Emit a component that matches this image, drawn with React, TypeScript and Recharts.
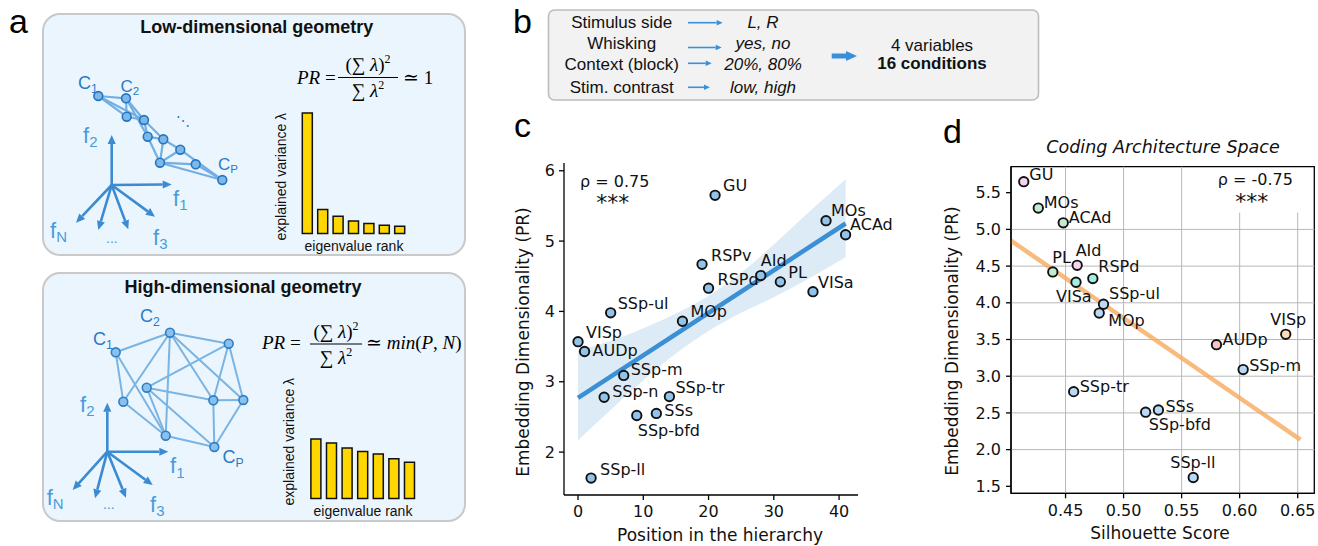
import React from 'react';
import {
  ComposedChart, ScatterChart, BarChart, Bar, Scatter, Area, Line,
  XAxis, YAxis, ReferenceLine, ReferenceArea,
} from 'recharts';

const SANS = 'DejaVu Sans, Verdana, sans-serif';
const ARIAL = 'Liberation Sans, Arial, Helvetica, sans-serif';
const SERIF = 'Liberation Serif, DejaVu Serif, serif';

// ---------------- Panel c: dimensionality vs hierarchy ----------------
const areasC = ['GU', 'MOs', 'ACAd', 'RSPv', 'AId', 'RSPd', 'PL', 'VISa', 'SSp-ul', 'MOp', 'VISp', 'AUDp', 'SSp-m', 'SSp-n', 'SSp-tr', 'SSs', 'SSp-bfd', 'SSp-ll'];
const hierarchyPosition = [21, 38, 41, 19, 28, 20, 31, 36, 5, 16, 0, 1, 7, 4, 14, 12, 9, 2];
const dimensionalityC = [5.65, 5.29, 5.09, 4.67, 4.51, 4.33, 4.42, 4.28, 3.98, 3.86, 3.57, 3.43, 3.09, 2.78, 2.79, 2.55, 2.52, 1.63];
const fitXC = [0, 41];
const fitYC = [2.77, 5.25];
const bandXC = [0, 5, 10, 15, 20, 25, 30, 35, 41];
const bandLoC = [2.17, 2.6, 3.02, 3.4, 3.72, 3.98, 4.2, 4.45, 4.77];
const bandHiC = [3.45, 3.58, 3.76, 3.97, 4.22, 4.55, 4.95, 5.38, 5.88];
const xTicksC = [0, 10, 20, 30, 40];
const yTicksC = [2, 3, 4, 5, 6];

// label offsets (px) for panel c text relative to marker
const labelOffsetC: Record<string, [number, number]> = {
  GU: [8, -10], MOs: [5, -10], ACAd: [4.5, -10], RSPv: [9, -8.5], AId: [0, -15], RSPd: [9, -8.5],
  PL: [8, -9], VISa: [5, -9.5], 'SSp-ul': [7, -9], MOp: [8, -9.5], VISp: [8, -9], AUDp: [8, -1],
  'SSp-m': [7, -6], 'SSp-n': [8, -5.5], 'SSp-tr': [6, -9], SSs: [8, -2.5], 'SSp-bfd': [1, 15], 'SSp-ll': [9, -8.5],
};

// ---------------- Panel d: coding architecture space ----------------
const areasD = ['GU', 'MOs', 'ACAd', 'PL', 'AId', 'RSPd', 'VISa', 'SSp-ul', 'MOp', 'AUDp', 'VISp', 'SSp-m', 'SSp-tr', 'SSs', 'SSp-bfd', 'SSp-ll'];
const silhouetteD = [0.414, 0.4265, 0.448, 0.439, 0.460, 0.4735, 0.459, 0.4827, 0.479, 0.580, 0.6397, 0.603, 0.457, 0.530, 0.519, 0.560];
const dimensionalityD = [5.65, 5.29, 5.09, 4.42, 4.51, 4.33, 4.28, 3.98, 3.86, 3.43, 3.57, 3.09, 2.79, 2.54, 2.51, 1.62];
const groupD = ['pink', 'green', 'green', 'green', 'pink', 'cyan', 'cyan', 'blue', 'blue', 'salmon', 'peach', 'blue', 'blue', 'blue', 'blue', 'blue'];
const fitXD = [0.403, 0.6523];
const fitYD = [4.846, 2.136];
const xTicksD = [0.45, 0.5, 0.55, 0.6, 0.65];
const yTicksD = [1.5, 2.0, 2.5, 3.0, 3.5, 4.0, 4.5, 5.0, 5.5];
const gridYD = [2.0, 2.5, 3.0, 3.5, 4.0, 4.5, 5.0];
const gridXFullD = [0.45, 0.5, 0.55];
const gridXCutD = [0.6, 0.65];

const groupColors: Record<string, string> = {
  pink: '#f6d4ef', green: '#c3ebcf', cyan: '#9eefe6', blue: '#b9d9f7', salmon: '#f8c4c4', peach: '#fddcb6',
};
const labelOffsetD: Record<string, [number, number]> = {
  GU: [5.5, -7], MOs: [5.5, -6], ACAd: [5.5, -5.5], PL: [-0.5, -14], AId: [-1.5, -15], RSPd: [5.5, -12],
  VISa: [-20, 14], 'SSp-ul': [5.5, -11], MOp: [9, 7], AUDp: [6, -5], VISp: [-15.5, -14.5], 'SSp-m': [6, -4.5],
  'SSp-tr': [6, -5], SSs: [7, -3], 'SSp-bfd': [3, 12], 'SSp-ll': [-23, -15],
};

// ---------------- Panel a: schematic geometries ----------------
const eigenRanks = ['1', '2', '3', '4', '5', '6', '7'];
const lowDimEigen = [1.0, 0.199, 0.143, 0.104, 0.083, 0.069, 0.061];
const highDimEigen = [0.489, 0.456, 0.415, 0.387, 0.366, 0.327, 0.297];

// node positions in the sketch's feature plane
const lowNodesX = [98.3, 126, 126.7, 144, 147.7, 163.3, 180.3, 160, 195.7, 222.3];
const lowNodesY = [96, 98.3, 116.7, 120, 136.7, 139.3, 149.7, 162.7, 164.3, 180];
const lowEdges: [number, number][] = [
  [0, 1], [0, 2], [0, 3], [1, 2], [1, 3], [1, 4], [2, 3], [3, 4], [3, 5], [4, 5], [4, 7], [5, 7],
  [5, 6], [6, 7], [7, 8], [7, 9], [8, 9], [6, 9],
];
const lowAxisOrigin = [111.7, 185];
const lowAxisTipsX = [171.7, 111.7, 76, 98.3, 128.3, 155];
const lowAxisTipsY = [184.5, 135, 222.7, 230, 229.3, 216.7];

const highNodesX = [115.7, 170, 228.7, 146.7, 123.3, 213.3, 243.3, 165.7, 214.3];
const highNodesY = [352.3, 332.7, 343.7, 387.7, 401.7, 400.3, 400, 435.7, 447];
const highEdges: [number, number][] = [
  [0, 1], [0, 4], [0, 7], [1, 4], [1, 7], [1, 2], [1, 5], [1, 6], [2, 3], [2, 5], [2, 6],
  [3, 5], [3, 7], [3, 8], [4, 7], [5, 6], [5, 8], [6, 8], [7, 8],
];
const highAxisOrigin = [107.3, 451.7];
const highAxisTipsX = [168.3, 107.3, 72.7, 95, 126, 152.7];
const highAxisTipsY = [451.7, 402.7, 490, 498.3, 497.7, 485];

// ---------------- Panel b text ----------------
const variableNames = ['Stimulus side', 'Whisking', 'Context (block)', 'Stim. contrast'];
const variableLevels = ['L, R', 'yes, no', '20%, 80%', 'low, high'];

// ---------------------------------------------------------------------
const tickStyle = { fill: '#111', fontSize: 16, fontFamily: SANS };

const ArrowShape = (color: string, width: number, head: number) => (p: any) => {
  const { x1, y1, x2, y2 } = p;
  if ([x1, y1, x2, y2].some((v) => typeof v !== 'number' || isNaN(v))) return <g />;
  const ang = Math.atan2(y2 - y1, x2 - x1);
  const bx = x2 - head * Math.cos(ang);
  const by = y2 - head * Math.sin(ang);
  const hw = head * 0.45;
  const px = -Math.sin(ang) * hw;
  const py = Math.cos(ang) * hw;
  return (
    <g>
      <line x1={x1} y1={y1} x2={bx} y2={by} stroke={color} strokeWidth={width} />
      <polygon points={`${x2},${y2} ${bx + px},${by + py} ${bx - px},${by - py}`} fill={color} />
    </g>
  );
};

function GeometrySketch(props: {
  left: number; top: number; width: number; height: number;
  nodesX: number[]; nodesY: number[]; edges: [number, number][];
  origin: number[]; tipsX: number[]; tipsY: number[];
  nodeFill: string; nodeStroke: string; edgeColor: string; edgeWidth: number;
}) {
  const { left, top, width, height, nodesX, nodesY, edges, origin, tipsX, tipsY } = props;
  const nodes = nodesX.map((x, i) => ({ x, y: nodesY[i] }));
  const arrow = ArrowShape('#3a8bd2', 2.6, 9);
  return (
    <div style={{ position: 'absolute', left, top }}>
      <ScatterChart width={width} height={height} margin={{ top: 0, right: 0, bottom: 0, left: 0 }}>
        <XAxis type="number" dataKey="x" domain={[left, left + width]} hide allowDataOverflow />
        <YAxis type="number" dataKey="y" domain={[top, top + height]} reversed hide allowDataOverflow />
        {edges.map(([a, b], i) => (
          <ReferenceLine key={'e' + i} ifOverflow="visible"
            segment={[{ x: nodesX[a], y: nodesY[a] }, { x: nodesX[b], y: nodesY[b] }]}
            stroke={props.edgeColor} strokeWidth={props.edgeWidth} />
        ))}
        {tipsX.map((tx, i) => (
          <ReferenceLine key={'a' + i} ifOverflow="visible"
            segment={[{ x: origin[0], y: origin[1] }, { x: tx, y: tipsY[i] }]}
            shape={arrow} />
        ))}
        <Scatter data={nodes} isAnimationActive={false}
          shape={(p: any) => <circle cx={p.cx} cy={p.cy} r={4.4} fill={props.nodeFill} stroke={props.nodeStroke} strokeWidth={1.6} />} />
      </ScatterChart>
    </div>
  );
}

function EigenBars(props: { left: number; top: number; width: number; height: number; values: number[]; yMax: number; padL: number; padR: number }) {
  const data = eigenRanks.map((r, i) => ({ rank: r, v: props.values[i] }));
  const m = 5;
  return (
    <div style={{ position: 'absolute', left: props.left - m, top: props.top - m }}>
      <BarChart width={props.width + 2 * m} height={props.height + 2 * m} data={data} margin={{ top: m, right: m, bottom: m, left: m }} barCategoryGap={0}>
        <XAxis dataKey="rank" height={0} tick={false} tickLine={false} padding={{ left: props.padL, right: props.padR }} axisLine={{ stroke: '#000', strokeWidth: 2 }} />
        <YAxis domain={[0, props.yMax]} width={0} tick={false} tickLine={false} axisLine={{ stroke: '#000', strokeWidth: 2 }} />
        <Bar dataKey="v" barSize={10} fill="#ffd700" stroke="#111" strokeWidth={1.5} isAnimationActive={false} />
      </BarChart>
    </div>
  );
}

const circleShape = (fillFor: (p: any) => string) => (p: any) => (
  <circle cx={p.cx} cy={p.cy} r={4.7} fill={fillFor(p)} stroke="#111" strokeWidth={1.9} />
);
const labelShape = (offsets: Record<string, [number, number]>) => (p: any) => {
  const name = p.payload?.name ?? '';
  const off = offsets[name] || [6, -8];
  return (
    <text x={p.cx + off[0]} y={p.cy + off[1]} dominantBaseline="central" fontSize={16} fontFamily={SANS} fill="#111">{name}</text>
  );
};

function PanelC() {
  const points = areasC.map((name, i) => ({ name, x: hierarchyPosition[i], y: dimensionalityC[i] }));
  const band = bandXC.map((x, i) => ({ x, range: [bandLoC[i], bandHiC[i]] }));
  const fit = fitXC.map((x, i) => ({ x, fy: fitYC[i] }));
  return (
    <div style={{ position: 'absolute', left: 500, top: 140 }}>
      <ComposedChart width={400} height={406} data={band} margin={{ top: 23, right: 42, bottom: 0, left: 0 }}>
        <XAxis type="number" dataKey="x" domain={[-2.15, 42.9]} ticks={xTicksC} height={51}
          tickSize={5} tickMargin={6} axisLine={{ stroke: '#000', strokeWidth: 1.3 }} tickLine={{ stroke: '#000', strokeWidth: 1.3 }} tick={tickStyle} />
        <YAxis type="number" domain={[1.39, 6.11]} ticks={yTicksC} width={64}
          tickSize={5} tickMargin={4} axisLine={{ stroke: '#000', strokeWidth: 1.3 }} tickLine={{ stroke: '#000', strokeWidth: 1.3 }} tick={tickStyle} />
        <Area dataKey="range" type="monotone" fill="#bcd8ee" fillOpacity={0.5} stroke="none" isAnimationActive={false} />
        <Line data={fit} dataKey="fy" stroke="#3b8fd4" strokeWidth={4.5} dot={false} isAnimationActive={false} />
        <Scatter data={points} dataKey="y" shape={labelShape(labelOffsetC)} isAnimationActive={false} />
        <Scatter data={points} dataKey="y" shape={circleShape(() => '#92c3ea')} isAnimationActive={false} />
      </ComposedChart>
    </div>
  );
}

function PanelD() {
  const points = areasD.map((name, i) => ({ name, x: silhouetteD[i], y: dimensionalityD[i], g: groupD[i] }));
  const fit = fitXD.map((x, i) => ({ x, fy: fitYD[i] }));
  const xMin = 0.403, xMax = 0.6643, yMin = 1.405, yMax = 5.854;
  return (
    <div style={{ position: 'absolute', left: 920, top: 140 }}>
      <ComposedChart width={398} height={406} margin={{ top: 26.7, right: 3.7, bottom: 0, left: 0 }}>
        <XAxis type="number" dataKey="x" domain={[xMin, xMax]} ticks={xTicksD} height={52.7}
          tickFormatter={(v: number) => v.toFixed(2)}
          tickSize={5} tickMargin={6} axisLine={{ stroke: '#000', strokeWidth: 1.3 }} tickLine={{ stroke: '#000', strokeWidth: 1.3 }} tick={tickStyle} />
        <YAxis type="number" dataKey="y" domain={[yMin, yMax]} ticks={yTicksD} width={91}
          tickFormatter={(v: number) => v.toFixed(1)}
          tickSize={5} tickMargin={5} axisLine={{ stroke: '#000', strokeWidth: 1.3 }} tickLine={{ stroke: '#000', strokeWidth: 1.3 }} tick={tickStyle} />
        {gridYD.map((v) => <ReferenceLine key={'gy' + v} y={v} stroke="#b8b8b8" strokeWidth={1} />)}
        {gridXFullD.map((v) => <ReferenceLine key={'gx' + v} x={v} stroke="#b8b8b8" strokeWidth={1} />)}
        {gridXCutD.map((v) => <ReferenceLine key={'gc' + v} segment={[{ x: v, y: yMin }, { x: v, y: 5.228 }]} stroke="#b8b8b8" strokeWidth={1} />)}
        <Line data={fit} dataKey="fy" stroke="#f7a95e" strokeOpacity={0.8} strokeWidth={4.5} dot={false} isAnimationActive={false} />
        <Scatter data={points} dataKey="y" shape={labelShape(labelOffsetD)} isAnimationActive={false} />
        <Scatter data={points} dataKey="y" shape={circleShape((p) => groupColors[p.payload?.g] || '#b9d9f7')} isAnimationActive={false} />
        <ReferenceArea x1={xMin} x2={xMax} y1={yMin} y2={yMax} fill="none" stroke="#000" strokeWidth={1.3} ifOverflow="visible" />
      </ComposedChart>
    </div>
  );
}

function Fraction(props: { x: number; numY: number; denY: number; barY: number; barX1: number; barX2: number }) {
  const { x, numY, denY, barY, barX1, barX2 } = props;
  return (
    <g fontFamily={SERIF} fontSize={19} fill="#000">
      <text x={x} y={numY} textAnchor="middle">(∑ <tspan fontStyle="italic">λ</tspan>)<tspan fontSize={12} dy={-8}>2</tspan></text>
      <line x1={barX1} x2={barX2} y1={barY} y2={barY} stroke="#000" strokeWidth={1.2} />
      <text x={x} y={denY} textAnchor="middle">∑ <tspan fontStyle="italic">λ</tspan><tspan fontSize={12} dy={-8}>2</tspan></text>
    </g>
  );
}

function Overlay() {
  const blue = '#2a7bc6';
  const lblue = '#4a9bdc';
  const sub = (main: string, s: string, x: number, y: number, size: number, color: string) => (
    <text x={x} y={y} fontFamily={ARIAL} fontSize={size} fill={color}>{main}<tspan fontSize={size * 0.68} dy={size * 0.2}>{s}</tspan></text>
  );
  const arrowB = (x1: number, x2: number, y: number, w: number, h: number) => (
    <g>
      <line x1={x1} x2={x2 - h} y1={y} y2={y} stroke="#3a90d8" strokeWidth={w} />
      <polygon points={`${x2},${y} ${x2 - h},${y - h * 0.45} ${x2 - h},${y + h * 0.45}`} fill="#3a90d8" />
    </g>
  );
  const rowY = [22.7, 43.3, 64, 87.3];
  const arrowEnds = [722.7, 721.7, 711.7, 710];
  const arrowY = [22.7, 47.5, 63.3, 87.3];
  return (
    <svg width={1318} height={546} style={{ position: 'absolute', left: 0, top: 0, pointerEvents: 'none' }}>
      {/* panel letters */}
      <g fontFamily={ARIAL} fontSize={34} fill="#000">
        <text x={9} y={33}>a</text>
        <text x={513} y={33}>b</text>
        <text x={514} y={137}>c</text>
        <text x={943} y={143}>d</text>
      </g>
      {/* panel a titles */}
      <g fontFamily={ARIAL} fontSize={18} fontWeight="bold" fill="#111" textAnchor="middle">
        <text x={256.7} y={33}>Low-dimensional geometry</text>
        <text x={243} y={293}>High-dimensional geometry</text>
      </g>
      {/* formulas */}
      <g fontFamily={SERIF} fontSize={19} fill="#000">
        <text x={297} y={84}><tspan fontStyle="italic">PR</tspan> =</text>
        <text x={403} y={84}>≃ 1</text>
        <text x={262} y={349}><tspan fontStyle="italic">PR</tspan> =</text>
        <text x={366} y={349}>≃ <tspan fontStyle="italic">min</tspan>(<tspan fontStyle="italic">P</tspan>, <tspan fontStyle="italic">N</tspan>)</text>
      </g>
      <Fraction x={368} numY={71} denY={97} barY={77.5} barX1={338} barX2={398} />
      <Fraction x={336} numY={338} denY={364} barY={344} barX1={310} barX2={362} />
      {/* bar chart labels */}
      <g fontFamily={ARIAL} fontSize={14} fill="#111" textAnchor="middle">
        <text x={354} y={251}>eigenvalue rank</text>
        <text x={363} y={516}>eigenvalue rank</text>
        <text transform="rotate(-90 281 176.7)" x={281} y={176.7} dominantBaseline="central">explained variance λ</text>
        <text transform="rotate(-90 289.3 441.7)" x={289.3} y={441.7} dominantBaseline="central">explained variance λ</text>
      </g>
      {/* sketch labels, top */}
      {sub('C', '1', 78, 89, 18, blue)}
      {sub('C', '2', 120.5, 92, 17, blue)}
      {sub('C', 'P', 218, 170, 17, blue)}
      <text x={176} y={126} fontFamily={ARIAL} fontSize={14} fill={blue}>⋱</text>
      {sub('f', '2', 83, 143, 22, lblue)}
      {sub('f', '1', 173, 206, 22, lblue)}
      {sub('f', 'N', 50, 238, 22, lblue)}
      <text x={106} y={243} fontFamily={ARIAL} fontSize={14} fill={lblue}>...</text>
      {sub('f', '3', 153, 245, 22, lblue)}
      {/* sketch labels, bottom */}
      {sub('C', '1', 93, 345, 18, blue)}
      {sub('C', '2', 140, 322, 18, blue)}
      {sub('C', 'P', 222.5, 463, 18, blue)}
      {sub('f', '2', 80, 411.7, 22, lblue)}
      {sub('f', '1', 170, 473.3, 22, lblue)}
      {sub('f', 'N', 46.7, 505, 22, lblue)}
      <text x={103} y={509} fontFamily={ARIAL} fontSize={14} fill={lblue}>...</text>
      {sub('f', '3', 150, 511.7, 22, lblue)}

      {/* panel b */}
      <rect x={548.5} y={10} width={490} height={90} rx={6} fill="#f2f2f2" stroke="#bdbdbd" strokeWidth={1.6} />
      <g fontFamily={ARIAL} fontSize={17} fill="#111">
        {variableNames.map((t, i) => (
          <text key={t} x={621.7} y={rowY[i]} textAnchor="middle" dominantBaseline="central">{t}</text>
        ))}
        {variableLevels.map((t, i) => (
          <text key={t} x={763} y={rowY[i]} textAnchor="middle" dominantBaseline="central" fontStyle="italic">{t}</text>
        ))}
        <text x={932} y={45} textAnchor="middle" dominantBaseline="central">4 variables</text>
        <text x={932} y={63.5} textAnchor="middle" dominantBaseline="central" fontWeight="bold">16 conditions</text>
      </g>
      {arrowEnds.map((xe, i) => <g key={i}>{arrowB(688, xe, arrowY[i], 1.6, 6)}</g>)}
      {arrowB(831.7, 857, 56, 5, 11)}

      {/* panel c text */}
      <g fontFamily={SANS} fill="#111">
        <text x={580} y={181} fontSize={16} dominantBaseline="central">ρ = 0.75</text>
        <text x={612.7} y={210} fontSize={22} textAnchor="middle">***</text>
        <text x={720} y={535} fontSize={17} textAnchor="middle" dominantBaseline="central">Position in the hierarchy</text>
        <text transform="rotate(-90 523 342)" x={523} y={342} fontSize={17} textAnchor="middle" dominantBaseline="central">Embedding Dimensionality (PR)</text>
      </g>
      {/* panel d text */}
      <g fontFamily={SANS} fill="#111">
        <text x={1163} y={146.7} fontSize={17.5} fontStyle="italic" textAnchor="middle" dominantBaseline="central">Coding Architecture Space</text>
        <text x={1217.7} y={179.3} fontSize={16} dominantBaseline="central">ρ = -0.75</text>
        <text x={1251.7} y={208.5} fontSize={22} textAnchor="middle">***</text>
        <text x={1160} y={533.3} fontSize={17} textAnchor="middle" dominantBaseline="central">Silhouette Score</text>
        <text transform="rotate(-90 952.3 341)" x={952.3} y={341} fontSize={17} textAnchor="middle" dominantBaseline="central">Embedding Dimensionality (PR)</text>
      </g>
    </svg>
  );
}

export default function App() {
  const boxStyle = (top: number, height: number): React.CSSProperties => ({
    position: 'absolute', left: 41.5, top, width: 424, height, boxSizing: 'border-box',
    border: '2px solid #c9c9c9', borderRadius: 18, background: '#ebf5fd',
  });
  return (
    <div style={{ position: 'absolute', left: 0, top: 0, width: 1318, height: 546, background: '#fff', overflow: 'hidden' }}>
      <div style={boxStyle(12.7, 243.5)} />
      <div style={boxStyle(271.5, 250.5)} />
      <GeometrySketch left={42} top={13} width={424} height={243}
        nodesX={lowNodesX} nodesY={lowNodesY} edges={lowEdges}
        origin={lowAxisOrigin} tipsX={lowAxisTipsX} tipsY={lowAxisTipsY}
        nodeFill="#7fb7e6" nodeStroke="#2276c4" edgeColor="#72afe2" edgeWidth={2.2} />
      <GeometrySketch left={42} top={272} width={424} height={250}
        nodesX={highNodesX} nodesY={highNodesY} edges={highEdges}
        origin={highAxisOrigin} tipsX={highAxisTipsX} tipsY={highAxisTipsY}
        nodeFill="#8cc0ea" nodeStroke="#2a7fc8" edgeColor="#7ab4e3" edgeWidth={2} />
      <EigenBars left={291.7} top={111.7} width={130} height={121.6} values={lowDimEigen} yMax={1.008} padL={7.3} padR={14.9} />
      <EigenBars left={301} top={377.3} width={131.7} height={121.4} values={highDimEigen} yMax={1} padL={6.9} padR={15.6} />
      <PanelC />
      <PanelD />
      <Overlay />
    </div>
  );
}
